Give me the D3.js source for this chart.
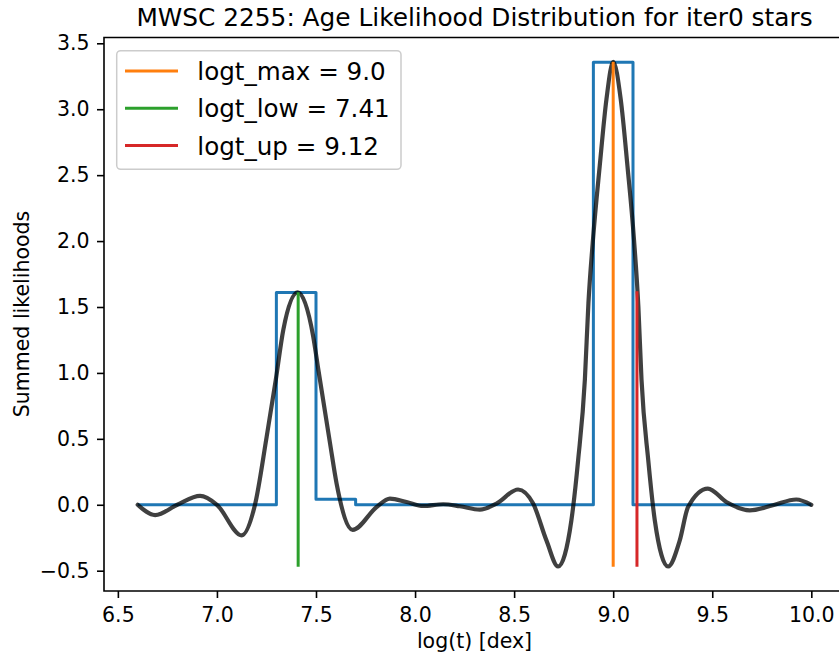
<!DOCTYPE html>
<html>
<head>
<meta charset="utf-8">
<script src="https://cdn.jsdelivr.net/npm/d3@7"></script>
<style>
  body { margin: 0; background: #fff; }
  text { font-family: "DejaVu Sans", sans-serif; fill: #000; }
</style>
</head>
<body>
<div class="graph"></div>
<script>
// histogram edges & heights (step, post)
let stepEdges = [6.6, 7.3, 7.5, 7.7, 8.9, 9.1, 10.0]
let stepValues = [0, 1.61, 0.042, 0, 3.356, 0, 0]

// smoothed likelihood curve
let curveX = [6.6, 6.688, 6.80, 6.915, 7.0, 7.125, 7.192, 7.251, 7.297, 7.335, 7.408, 7.486, 7.512, 7.571, 7.604, 7.685,
  7.806, 7.873, 7.957, 8.041, 8.142, 8.226, 8.327, 8.411, 8.520, 8.596, 8.663, 8.722, 8.789, 8.823, 8.857, 8.875,
  8.898, 8.932, 8.966, 9.0, 9.038, 9.072, 9.105, 9.127, 9.143, 9.177, 9.210, 9.277, 9.336, 9.378, 9.478, 9.571,
  9.689, 9.806, 9.924, 10.0]
let curveY = [0, -0.078, 0.0, 0.067, 0.0, -0.232, 0.0, 0.516, 0.947, 1.327, 1.611, 1.276, 1.023, 0.465, 0.161, -0.19,
  -0.017, 0.047, 0.021, -0.009, 0.004, -0.011, -0.037, 0.009, 0.116, 0.009, -0.27, -0.468, -0.118, 0.338, 0.947, 1.53,
  2.011, 2.569, 3.076, 3.36, 3.076, 2.569, 2.011, 1.504, 0.947, 0.338, -0.118, -0.468, -0.27, -0.017, 0.123, 0.021,
  -0.042, -0.004, 0.04, 0]

// vertical markers
let markerNames = ['logt_max = 9.0', 'logt_low = 7.41', 'logt_up = 9.12']
let markerX = [9.0, 7.41, 9.12]
let markerTop = [3.36, 1.611, 1.62]
let markerBottom = -0.47
let markerColors = ['#ff7f0e', '#2ca02c', '#d62728']

let xTicks = [6.5, 7.0, 7.5, 8.0, 8.5, 9.0, 9.5, 10.0]
let yTicks = [-0.5, 0.0, 0.5, 1.0, 1.5, 2.0, 2.5, 3.0, 3.5]

let svgWidth = 839
let svgHeight = 659
let margin = { left: 104, top: 37.5 }
let width = 741
let height = 553.5

let svg = d3.select('.graph')
    .append('svg')
    .attr('width', svgWidth)
    .attr('height', svgHeight)

let g = svg.append('g')
    .attr('transform', `translate(${margin.left},${margin.top})`)

let xScale = d3.scaleLinear().domain([6.43, 10.17]).range([0, width])
let yScale = d3.scaleLinear().domain([-0.654, 3.544]).range([height, 0])

// step histogram
let stepLine = d3.line()
    .x(d => xScale(d[0]))
    .y(d => yScale(d[1]))
    .curve(d3.curveStepAfter)

g.append('path')
    .attr('d', stepLine(stepEdges.map((e, i) => [e, stepValues[i]])))
    .attr('fill', 'none')
    .attr('stroke', '#1f77b4')
    .attr('stroke-width', 3)
    .attr('stroke-linejoin', 'round')

// smooth curve
let smoothLine = d3.line()
    .x(d => xScale(d[0]))
    .y(d => yScale(d[1]))
    .curve(d3.curveMonotoneX)

g.append('path')
    .attr('d', smoothLine(curveX.map((x, i) => [x, curveY[i]])))
    .attr('fill', 'none')
    .attr('stroke', '#000')
    .attr('stroke-opacity', 0.75)
    .attr('stroke-width', 4.2)
    .attr('stroke-linecap', 'round')

// vlines
g.selectAll('.vline')
    .data(markerX)
    .join('line')
    .attr('class', 'vline')
    .attr('x1', d => xScale(d))
    .attr('x2', d => xScale(d))
    .attr('y1', yScale(markerBottom))
    .attr('y2', (d, i) => yScale(markerTop[i]))
    .attr('stroke', (d, i) => markerColors[i])
    .attr('stroke-width', 3)

// axes
let xAxis = d3.axisBottom(xScale)
    .tickValues(xTicks)
    .tickFormat(d3.format('.1f'))
    .tickSize(7)
    .tickSizeOuter(0)
    .tickPadding(9)

let yAxis = d3.axisLeft(yScale)
    .tickValues(yTicks)
    .tickFormat(d3.format('.1f'))
    .tickSize(7)
    .tickSizeOuter(0)
    .tickPadding(7.5)

let gx = g.append('g')
    .attr('transform', `translate(0,${height})`)
    .call(xAxis)
let gy = g.append('g')
    .call(yAxis)

for (let ax of [gx, gy]) {
    ax.select('.domain').remove()
    ax.selectAll('line').attr('stroke', '#000').attr('stroke-width', 1.6)
    ax.selectAll('text')
        .style('font-family', '"DejaVu Sans", sans-serif')
        .style('font-size', '20.5px')
        .attr('fill', '#000')
}

// spines (right one falls outside the picture)
g.append('path')
    .attr('d', `M${width},0H0V${height}H${width}`)
    .attr('fill', 'none')
    .attr('stroke', '#000')
    .attr('stroke-width', 1.6)

// title & labels
svg.append('text')
    .attr('x', 474.5)
    .attr('y', 26)
    .attr('text-anchor', 'middle')
    .style('font-size', '24.8px')
    .text('MWSC 2255: Age Likelihood Distribution for iter0 stars')

svg.append('text')
    .attr('x', 474.5)
    .attr('y', 648)
    .attr('text-anchor', 'middle')
    .style('font-size', '20.5px')
    .text('log(t) [dex]')

svg.append('text')
    .attr('transform', 'translate(28.5,314) rotate(-90)')
    .attr('text-anchor', 'middle')
    .style('font-size', '20.5px')
    .text('Summed likelihoods')

// legend
let legend = svg.append('g')
legend.append('rect')
    .attr('x', 116.7)
    .attr('y', 50.7)
    .attr('width', 284.3)
    .attr('height', 118.6)
    .attr('rx', 4)
    .attr('fill', '#fff')
    .attr('fill-opacity', 0.8)
    .attr('stroke', '#cccccc')
    .attr('stroke-width', 1.5)

let rows = legend.selectAll('.row')
    .data(markerNames)
    .join('g')
    .attr('class', 'row')
    .attr('transform', (d, i) => `translate(0,${71 + i * 37.3})`)

rows.append('line')
    .attr('x1', 125).attr('x2', 178)
    .attr('stroke', (d, i) => markerColors[i])
    .attr('stroke-width', 3)

rows.append('text')
    .attr('x', 197.3)
    .attr('y', 9)
    .style('font-size', '24.6px')
    .text(d => d)
</script>
</body>
</html>
